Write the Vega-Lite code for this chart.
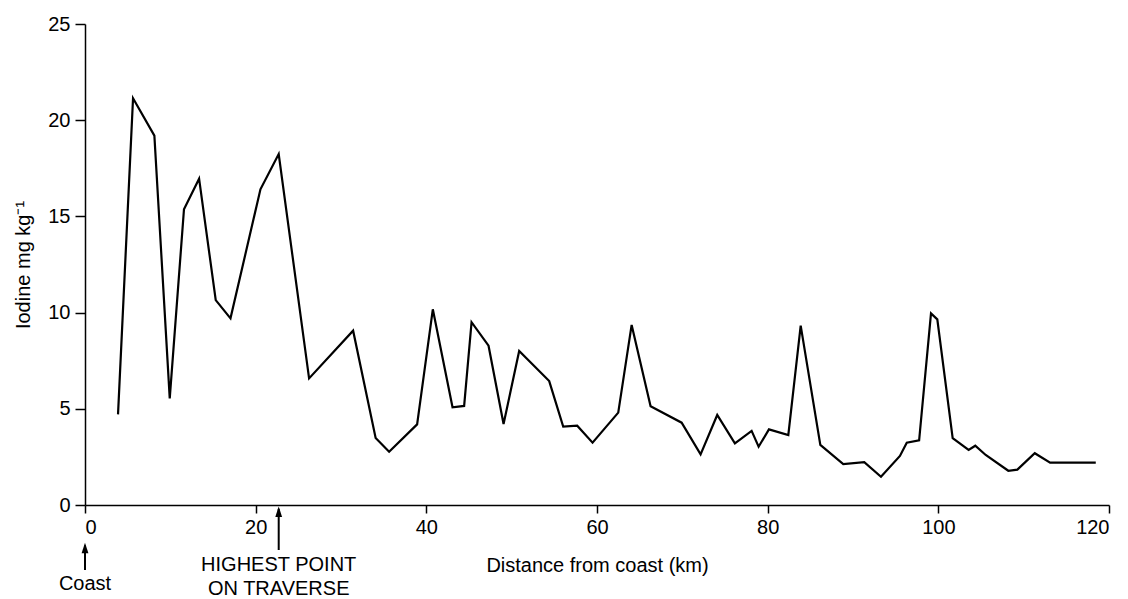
{
  "$schema": "https://vega.github.io/schema/vega-lite/v6.json",
  "width": 1024,
  "height": 481,
  "autosize": {"type": "none"},
  "padding": {"left": 85, "top": 24, "right": 19, "bottom": 94},
  "background": "white",
  "config": {
    "view": {"stroke": null},
    "font": "Liberation Sans",
    "axis": {
      "grid": false,
      "domainColor": "black",
      "domainWidth": 1.5,
      "tickColor": "black",
      "tickWidth": 1.5,
      "labelColor": "black",
      "titleColor": "black",
      "labelFont": "Liberation Sans",
      "titleFont": "Liberation Sans",
      "labelFontSize": 20,
      "titleFontSize": 20,
      "titleFontWeight": "normal"
    }
  },
  "layer": [
    {
      "data": {
        "values": [
          {"distance": 3.87, "iodine": 4.71},
          {"distance": 5.63, "iodine": 21.14},
          {"distance": 8.13, "iodine": 19.2},
          {"distance": 9.93, "iodine": 5.54},
          {"distance": 11.6, "iodine": 15.37},
          {"distance": 13.37, "iodine": 16.96},
          {"distance": 15.32, "iodine": 10.65},
          {"distance": 17.05, "iodine": 9.7},
          {"distance": 20.56, "iodine": 16.41},
          {"distance": 22.7, "iodine": 18.24},
          {"distance": 26.26, "iodine": 6.58},
          {"distance": 31.42, "iodine": 9.06},
          {"distance": 34.06, "iodine": 3.48},
          {"distance": 35.64, "iodine": 2.77},
          {"distance": 38.92, "iodine": 4.19},
          {"distance": 40.76, "iodine": 10.17},
          {"distance": 43.07, "iodine": 5.08},
          {"distance": 44.43, "iodine": 5.15},
          {"distance": 45.3, "iodine": 9.5},
          {"distance": 47.29, "iodine": 8.28},
          {"distance": 49.05, "iodine": 4.21},
          {"distance": 50.88, "iodine": 8.0},
          {"distance": 54.4, "iodine": 6.44},
          {"distance": 56.04, "iodine": 4.07},
          {"distance": 57.68, "iodine": 4.12},
          {"distance": 59.48, "iodine": 3.24},
          {"distance": 62.49, "iodine": 4.8},
          {"distance": 64.06, "iodine": 9.36},
          {"distance": 66.28, "iodine": 5.13},
          {"distance": 69.92, "iodine": 4.28},
          {"distance": 72.14, "iodine": 2.63},
          {"distance": 74.09, "iodine": 4.68},
          {"distance": 76.16, "iodine": 3.2},
          {"distance": 78.12, "iodine": 3.85},
          {"distance": 78.94, "iodine": 3.03},
          {"distance": 80.15, "iodine": 3.93},
          {"distance": 82.42, "iodine": 3.64},
          {"distance": 83.87, "iodine": 9.32},
          {"distance": 86.17, "iodine": 3.12},
          {"distance": 88.86, "iodine": 2.13},
          {"distance": 91.32, "iodine": 2.23},
          {"distance": 93.28, "iodine": 1.47},
          {"distance": 95.5, "iodine": 2.55},
          {"distance": 96.3, "iodine": 3.24},
          {"distance": 97.75, "iodine": 3.36},
          {"distance": 99.14, "iodine": 9.96},
          {"distance": 99.88, "iodine": 9.65},
          {"distance": 101.68, "iodine": 3.48},
          {"distance": 103.55, "iodine": 2.86},
          {"distance": 104.33, "iodine": 3.08},
          {"distance": 105.55, "iodine": 2.6},
          {"distance": 108.2, "iodine": 1.78},
          {"distance": 109.26, "iodine": 1.84},
          {"distance": 111.3, "iodine": 2.69},
          {"distance": 113.1, "iodine": 2.2},
          {"distance": 118.45, "iodine": 2.2}
        ]
      },
      "mark": {"type": "line", "color": "black", "strokeWidth": 2.2, "strokeJoin": "miter"},
      "encoding": {
        "x": {
          "field": "distance",
          "type": "quantitative",
          "scale": {"domain": [0, 120], "nice": false, "zero": false},
          "axis": {
            "values": [0, 20, 40, 60, 80, 100, 120],
            "title": "Distance from coast (km)",
            "tickSize": 8,
            "labelPadding": 4,
            "titleBaseline": "alphabetic",
            "titleY": 66,
            "titleX": 512
          }
        },
        "y": {
          "field": "iodine",
          "type": "quantitative",
          "scale": {"domain": [0, 25], "nice": false},
          "axis": {
            "values": [0, 5, 10, 15, 20, 25],
            "title": "Iodine mg kg⁻¹",
            "tickSize": 10,
            "labelPadding": 5,
            "titleBaseline": "alphabetic",
            "titleX": -56,
            "titleY": 240.5
          }
        }
      }
    },
    {
      "data": {"values": [{"label": "Coast", "distance": 0}]},
      "mark": {"type": "rule", "color": "black", "strokeWidth": 2},
      "encoding": {
        "x": {"field": "distance", "type": "quantitative"},
        "y": {"datum": -2.1},
        "y2": {"datum": -3.38}
      }
    },
    {
      "data": {"values": [{"label": "Coast", "distance": 0}]},
      "mark": {"type": "point", "shape": "M0,-1L0.65,1L-0.65,1Z", "size": 110, "filled": true, "color": "black", "opacity": 1},
      "encoding": {
        "x": {"field": "distance", "type": "quantitative"},
        "y": {"datum": -2.24}
      }
    },
    {
      "data": {"values": [{"label": "Coast", "distance": 0}]},
      "mark": {"type": "text", "fontSize": 20, "color": "black", "align": "center", "baseline": "alphabetic", "font": "Liberation Sans"},
      "encoding": {
        "x": {"field": "distance", "type": "quantitative"},
        "y": {"datum": -4.4},
        "text": {"field": "label"}
      }
    },
    {
      "data": {"values": [{"label": "HIGHEST POINT ON TRAVERSE", "distance": 22.7}]},
      "mark": {"type": "rule", "color": "black", "strokeWidth": 2},
      "encoding": {
        "x": {"field": "distance", "type": "quantitative"},
        "y": {"datum": -0.2},
        "y2": {"datum": -2.34}
      }
    },
    {
      "data": {"values": [{"label": "HIGHEST POINT ON TRAVERSE", "distance": 22.7}]},
      "mark": {"type": "point", "shape": "M0,-1L0.65,1L-0.65,1Z", "size": 110, "filled": true, "color": "black", "opacity": 1},
      "encoding": {
        "x": {"field": "distance", "type": "quantitative"},
        "y": {"datum": -0.35}
      }
    },
    {
      "data": {"values": [{"line1": "HIGHEST POINT", "line2": "ON TRAVERSE", "distance": 22.7}]},
      "mark": {"type": "text", "fontSize": 20, "color": "black", "align": "center", "baseline": "alphabetic", "font": "Liberation Sans"},
      "encoding": {
        "x": {"field": "distance", "type": "quantitative"},
        "y": {"datum": -3.45},
        "text": {"field": "line1"}
      }
    },
    {
      "data": {"values": [{"line1": "HIGHEST POINT", "line2": "ON TRAVERSE", "distance": 22.7}]},
      "mark": {"type": "text", "fontSize": 20, "color": "black", "align": "center", "baseline": "alphabetic", "font": "Liberation Sans"},
      "encoding": {
        "x": {"field": "distance", "type": "quantitative"},
        "y": {"datum": -4.7},
        "text": {"field": "line2"}
      }
    }
  ]
}
